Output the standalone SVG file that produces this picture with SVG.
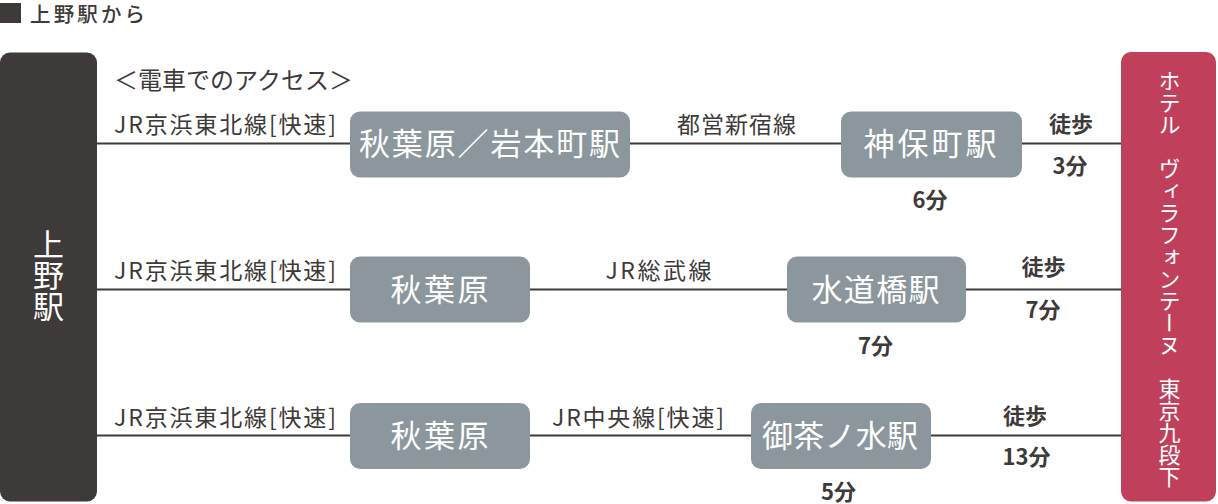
<svg xmlns="http://www.w3.org/2000/svg" width="1218" height="504" viewBox="0 0 1218 504">
<style>
text{font-family:"Noto Sans CJK JP","Noto Sans",sans-serif;fill:#3e3a39}
.lbl{font-size:23px}
.node rect{fill:#8c979d}
.node text{fill:#fff;font-size:31px;text-anchor:middle}
.bold{font-weight:bold;font-size:22px;text-anchor:middle}
.conn line{stroke:#3e3a39;stroke-width:2}
.vt{writing-mode:vertical-rl;fill:#fff}
</style>
<rect width="1218" height="504" fill="#fff"/>
<g id="header">
<rect x="0" y="3" width="21" height="20" fill="#3e3a39"/>
<text x="30" y="22" font-size="20.5" font-weight="500" textLength="115" lengthAdjust="spacing">上野駅から</text>
<text x="114" y="88.5" font-size="24" textLength="239" lengthAdjust="spacing">＜電車でのアクセス＞</text>
</g>
<g class="conn" id="connectors">
<line x1="97" y1="143.5" x2="350" y2="143.5"/>
<line x1="630" y1="143.5" x2="841" y2="143.5"/>
<line x1="1022" y1="143.5" x2="1121" y2="143.5"/>
<line x1="97" y1="289.5" x2="350" y2="289.5"/>
<line x1="530" y1="289.5" x2="787" y2="289.5"/>
<line x1="966" y1="289.5" x2="1121" y2="289.5"/>
<line x1="97" y1="435.5" x2="350" y2="435.5"/>
<line x1="530" y1="435.5" x2="751" y2="435.5"/>
<line x1="931" y1="435.5" x2="1121" y2="435.5"/>
</g>
<g id="labels">
<text class="lbl" x="114" y="133" textLength="222" lengthAdjust="spacing">JR京浜東北線[快速]</text>
<text class="lbl" x="114" y="279" textLength="222" lengthAdjust="spacing">JR京浜東北線[快速]</text>
<text class="lbl" x="114" y="425.5" textLength="222" lengthAdjust="spacing">JR京浜東北線[快速]</text>
<text class="lbl" x="736.5" y="133" text-anchor="middle" textLength="119" lengthAdjust="spacing">都営新宿線</text>
<text class="lbl" x="658.5" y="279" text-anchor="middle" textLength="106" lengthAdjust="spacing">JR総武線</text>
<text class="lbl" x="638" y="425.5" text-anchor="middle" textLength="172" lengthAdjust="spacing">JR中央線[快速]</text>
</g>
<g id="ueno">
<rect x="0" y="52.5" width="97" height="449" rx="10" fill="#3e3a39"/>
<text class="vt" x="48.5" y="229" font-size="31">上野駅</text>
</g>
<g id="hotel">
<rect x="1121" y="52" width="95" height="449.5" rx="10" fill="#c0405b"/>
<text class="vt" x="1169.5" y="70" font-size="22">ホテル　ヴィラフォンテーヌ　東京九段下</text>
</g>
<g class="node" id="n-akiba-iwamoto">
<rect x="350" y="111.5" width="280" height="66" rx="10"/>
<text x="489.5" y="155" textLength="261" lengthAdjust="spacing">秋葉原／岩本町駅</text>
</g>
<g class="node" id="n-jimbocho">
<rect x="841" y="111.5" width="181" height="66" rx="10"/>
<text x="930" y="155" textLength="133" lengthAdjust="spacing">神保町駅</text>
</g>
<g class="node" id="n-akiba-2">
<rect x="350" y="256.5" width="180" height="66" rx="10"/>
<text x="439.5" y="300.5" textLength="98" lengthAdjust="spacing">秋葉原</text>
</g>
<g class="node" id="n-suidobashi">
<rect x="787" y="256.5" width="179" height="66" rx="10"/>
<text x="875.5" y="300.5" textLength="128" lengthAdjust="spacing">水道橋駅</text>
</g>
<g class="node" id="n-akiba-3">
<rect x="350" y="403" width="180" height="66" rx="10"/>
<text x="439.5" y="447" textLength="98" lengthAdjust="spacing">秋葉原</text>
</g>
<g class="node" id="n-ochanomizu">
<rect x="751" y="403" width="180" height="66" rx="10"/>
<text x="840" y="447" textLength="156" lengthAdjust="spacing">御茶ノ水駅</text>
</g>
<g id="times">
<text class="bold" x="1071" y="131.5">徒歩</text>
<text class="bold" x="1070" y="173.5">3分</text>
<text class="bold" x="930" y="208">6分</text>
<text class="bold" x="1043.5" y="275">徒歩</text>
<text class="bold" x="1043" y="317.5">7分</text>
<text class="bold" x="875.5" y="353.5">7分</text>
<text class="bold" x="1025" y="423.5">徒歩</text>
<text class="bold" x="1026.5" y="464.5">13分</text>
<text class="bold" x="838.5" y="500">5分</text>
</g>
</svg>
